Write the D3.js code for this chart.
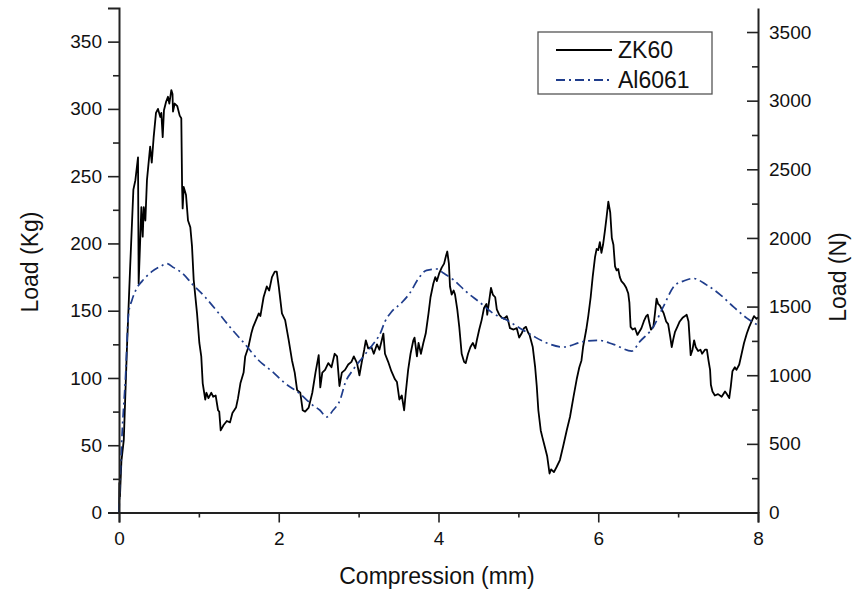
<!DOCTYPE html>
<html>
<head>
<meta charset="utf-8">
<script src="https://cdn.jsdelivr.net/npm/d3@7"></script>
<style>
  html, body { margin: 0; padding: 0; background: #fff; }
  svg { display: block; font-family: "Liberation Sans", Arial, sans-serif; }
</style>
</head>
<body>
<svg id="chart" width="856" height="592"></svg>
<script>
// Compression (mm) vs load (kg) for the ZK60 sample
const zk60 = [
  [0,0],[0.005,22],[0.012,12],[0.03,38],[0.06,54],[0.10,123],[0.14,183],[0.18,240],[0.205,247],[0.238,264],
  [0.246,170],[0.28,227],[0.297,205],[0.31,227],[0.33,217],[0.35,247],[0.39,272],[0.41,260],[0.434,279],[0.463,297],
  [0.488,300],[0.517,294],[0.53,297],[0.547,279],[0.563,299],[0.588,305],[0.613,309],[0.63,304],[0.655,314],[0.67,311],
  [0.676,298],[0.697,304],[0.73,302],[0.76,295],[0.78,293],[0.79,242],[0.797,226],[0.81,242],[0.839,236],[0.864,217],
  [0.893,212],[0.914,198],[0.935,173],[0.977,148],[1.006,126],[1.03,116],[1.048,96],[1.08,84],[1.095,89],[1.12,85],
  [1.156,89],[1.18,86],[1.21,87],[1.24,76],[1.255,75],[1.273,61],[1.31,65],[1.35,68],[1.39,67],[1.42,74],
  [1.465,78],[1.49,85],[1.52,96],[1.56,104],[1.58,116],[1.62,123],[1.656,133],[1.68,138],[1.715,143],[1.75,148],
  [1.77,146],[1.81,160],[1.85,168],[1.88,165],[1.915,175],[1.95,179],[1.975,179],[2.0,168],[2.04,148],[2.08,143],
  [2.125,128],[2.166,113],[2.2,104],[2.23,91],[2.27,89],[2.3,76],[2.33,75],[2.375,78],[2.42,89],[2.46,104],
  [2.5,117],[2.52,93],[2.545,104],[2.58,106],[2.62,111],[2.66,108],[2.70,118],[2.73,116],[2.76,94],[2.79,104],
  [2.83,106],[2.87,110],[2.91,112],[2.94,116],[2.98,111],[3.01,102],[3.04,112],[3.07,121],[3.09,128],[3.12,122],
  [3.16,123],[3.19,118],[3.23,125],[3.26,121],[3.29,128],[3.31,133],[3.33,118],[3.37,112],[3.41,105],[3.455,99],
  [3.48,97],[3.51,84],[3.54,87],[3.57,76],[3.59,89],[3.62,106],[3.65,118],[3.685,128],[3.70,130],[3.73,116],
  [3.75,126],[3.78,118],[3.81,126],[3.84,133],[3.875,148],[3.90,160],[3.935,170],[3.96,175],[3.98,172],[4.01,178],
  [4.04,182],[4.07,185],[4.095,191],[4.11,194],[4.13,185],[4.144,168],[4.165,162],[4.19,165],[4.207,162],[4.235,151],
  [4.26,138],[4.29,118],[4.32,112],[4.34,111],[4.37,118],[4.40,123],[4.43,126],[4.46,122],[4.48,128],[4.51,136],
  [4.54,143],[4.57,152],[4.60,155],[4.61,147],[4.636,158],[4.657,167],[4.68,162],[4.71,160],[4.73,151],[4.76,147],
  [4.79,145],[4.82,144],[4.855,146],[4.87,143],[4.895,137],[4.94,136],[4.98,137],[5.01,130],[5.04,133],[5.07,137],
  [5.095,138],[5.12,134],[5.14,132],[5.18,123],[5.21,108],[5.23,94],[5.25,76],[5.28,61],[5.30,56],[5.33,49],
  [5.36,42],[5.39,29],[5.41,32],[5.445,30],[5.48,34],[5.52,39],[5.56,49],[5.605,61],[5.646,71],[5.69,86],
  [5.73,99],[5.763,108],[5.79,113],[5.81,123],[5.85,136],[5.875,146],[5.905,160],[5.93,175],[5.96,190],[5.98,196],
  [6.0,195],[6.02,201],[6.04,193],[6.06,199],[6.085,210],[6.105,220],[6.126,231],[6.15,223],[6.17,204],[6.19,199],
  [6.21,183],[6.23,180],[6.25,181],[6.27,175],[6.29,172],[6.32,170],[6.35,167],[6.375,163],[6.39,156],[6.405,138],
  [6.43,136],[6.46,137],[6.49,132],[6.51,134],[6.54,137],[6.57,142],[6.60,146],[6.62,147],[6.64,141],[6.66,136],
  [6.69,138],[6.71,148],[6.73,159],[6.75,155],[6.77,154],[6.795,151],[6.82,148],[6.85,142],[6.875,140],[6.90,131],
  [6.92,123],[6.94,129],[6.96,134],[6.99,138],[7.02,142],[7.06,145],[7.086,146],[7.107,147],[7.13,142],[7.14,133],
  [7.157,117],[7.18,121],[7.2,128],[7.22,123],[7.25,120],[7.28,121],[7.30,118],[7.336,121],[7.36,121],[7.38,113],
  [7.40,106],[7.41,95],[7.43,90],[7.46,87],[7.50,88],[7.545,86],[7.587,90],[7.61,88],[7.64,85],[7.66,94],
  [7.68,105],[7.71,108],[7.73,106],[7.765,110],[7.795,118],[7.825,126],[7.86,133],[7.89,138],[7.92,142],[7.95,146],
  [7.98,144],[8.0,145]
];

// Compression (mm) vs load (kg) for the Al6061 sample
const al6061 = [
  [0,0],[0.04,60],[0.08,99],[0.12,148],[0.163,158],[0.225,167],[0.29,172],[0.41,179],[0.52,183],[0.60,185],
  [0.685,182],[0.79,178],[0.914,170],[1.08,160],[1.25,148],[1.415,136],[1.58,125],[1.75,113],[1.915,105],[2.08,96],
  [2.25,89],[2.42,80],[2.516,76],[2.60,71],[2.68,76],[2.77,84],[2.83,96],[2.93,106],[3.06,116],[3.18,125],
  [3.27,133],[3.33,142],[3.41,149],[3.54,156],[3.64,163],[3.75,174],[3.85,180],[3.98,181],[4.06,178],[4.185,173],
  [4.35,164],[4.52,156],[4.685,148],[4.855,143],[5.02,137],[5.19,131],[5.355,126],[5.56,123],[5.81,127],[6.0,128],
  [6.19,125],[6.42,120],[6.52,127],[6.69,138],[6.815,153],[6.96,169],[7.065,172],[7.19,174],[7.36,169],[7.525,162],
  [7.69,153],[7.86,144.5],[7.99,139.5]
];

const seriesNames = ["ZK60", "Al6061"];
const xTicks = [0, 2, 4, 6, 8];
const xMinorTicks = [1, 3, 5, 7];
const kgTicks = [0, 50, 100, 150, 200, 250, 300, 350];
const kgMinorTicks = [25, 75, 125, 175, 225, 275, 325];
const nTicks = [0, 500, 1000, 1500, 2000, 2500, 3000, 3500];
const nMinorTicks = [250, 750, 1250, 1750, 2250, 2750, 3250];
const kgMax = 375;
const gravity = 9.8;

const svg = d3.select("#chart");
const plotLeft = 119, plotRight = 758, plotTop = 8, plotBottom = 512.5;
const axisColor = "#222";
const blue = "#1f3d8c";

const x = d3.scaleLinear().domain([0, 8]).range([plotLeft, plotRight]);
const yKg = d3.scaleLinear().domain([0, kgMax]).range([plotBottom, plotTop]);
const yN = d3.scaleLinear().domain([0, kgMax * gravity]).range([plotBottom, plotTop]);

// data lines
const line = d3.line().x(d => x(d[0])).y(d => yKg(d[1]));
svg.append("path").datum(zk60)
  .attr("d", line)
  .attr("fill", "none").attr("stroke", "#000").attr("stroke-width", 1.8)
  .attr("stroke-linejoin", "round");

svg.append("path").datum(al6061)
  .attr("d", line.curve(d3.curveMonotoneX))
  .attr("fill", "none").attr("stroke", blue).attr("stroke-width", 1.7)
  .attr("stroke-dasharray", "9,4,2,4");

// axes
function styleAxis(g, fontSize) {
  g.select(".domain").attr("stroke", axisColor).attr("stroke-width", 2);
  g.selectAll(".tick line").attr("stroke", axisColor).attr("stroke-width", 1.6);
  g.selectAll(".tick text").attr("fill", "#111").style("font-size", fontSize + "px")
    .style("font-family", "'Liberation Sans', Arial, sans-serif");
}

const gx = svg.append("g").attr("transform", `translate(0,${plotBottom})`)
  .call(d3.axisBottom(x).tickValues(xTicks).tickSizeOuter(0).tickSize(10).tickPadding(9).tickFormat(d3.format("d")));
styleAxis(gx, 19);
const gxm = svg.append("g").attr("transform", `translate(0,${plotBottom})`)
  .call(d3.axisBottom(x).tickValues(xMinorTicks).tickSizeOuter(0).tickSize(5).tickFormat(""));
styleAxis(gxm, 19);
gxm.select(".domain").remove();

const gl = svg.append("g").attr("transform", `translate(${plotLeft},0)`)
  .call(d3.axisLeft(yKg).tickValues(kgTicks).tickSizeOuter(0).tickSize(11).tickPadding(6).tickFormat(d3.format("d")));
styleAxis(gl, 19);
const glm = svg.append("g").attr("transform", `translate(${plotLeft},0)`)
  .call(d3.axisLeft(yKg).tickValues(kgMinorTicks).tickSizeOuter(0).tickSize(6).tickFormat(""));
styleAxis(glm, 19);
glm.select(".domain").remove();

const gr = svg.append("g").attr("transform", `translate(${plotRight},0)`)
  .call(d3.axisRight(yN).tickValues(nTicks).tickSizeOuter(0).tickSizeInner(-11).tickPadding(11).tickFormat(d3.format("d")));
styleAxis(gr, 19);
const grm = svg.append("g").attr("transform", `translate(${plotRight},0)`)
  .call(d3.axisRight(yN).tickValues(nMinorTicks).tickSizeOuter(0).tickSizeInner(-6).tickFormat(""));
styleAxis(grm, 19);
grm.select(".domain").remove();

// axis titles
svg.append("text").attr("x", 437).attr("y", 584).attr("text-anchor", "middle")
  .style("font-size", "23px").attr("fill", "#111").text("Compression (mm)");
svg.append("text").attr("transform", "translate(38,262) rotate(-90)").attr("text-anchor", "middle")
  .style("font-size", "23px").attr("fill", "#111").text("Load (Kg)");
svg.append("text").attr("transform", "translate(846,277) rotate(-90)").attr("text-anchor", "middle")
  .style("font-size", "23px").attr("fill", "#111").text("Load (N)");

// legend
const lg = svg.append("g");
lg.append("rect").attr("x", 538).attr("y", 32).attr("width", 174).attr("height", 62)
  .attr("fill", "#fff").attr("stroke", "#555").attr("stroke-width", 1.3);
const legendRows = [
  { name: seriesNames[0], color: "#000", dash: null, y: 50 },
  { name: seriesNames[1], color: blue, dash: "9,4,2,4", y: 80 }
];
legendRows.forEach(r => {
  lg.append("line").attr("x1", 556).attr("x2", 612).attr("y1", r.y).attr("y2", r.y)
    .attr("stroke", r.color).attr("stroke-width", 1.8).attr("stroke-dasharray", r.dash);
  lg.append("text").attr("x", 618).attr("y", r.y + 8).style("font-size", "23px")
    .attr("fill", "#111").text(r.name);
});
</script>
</body>
</html>
